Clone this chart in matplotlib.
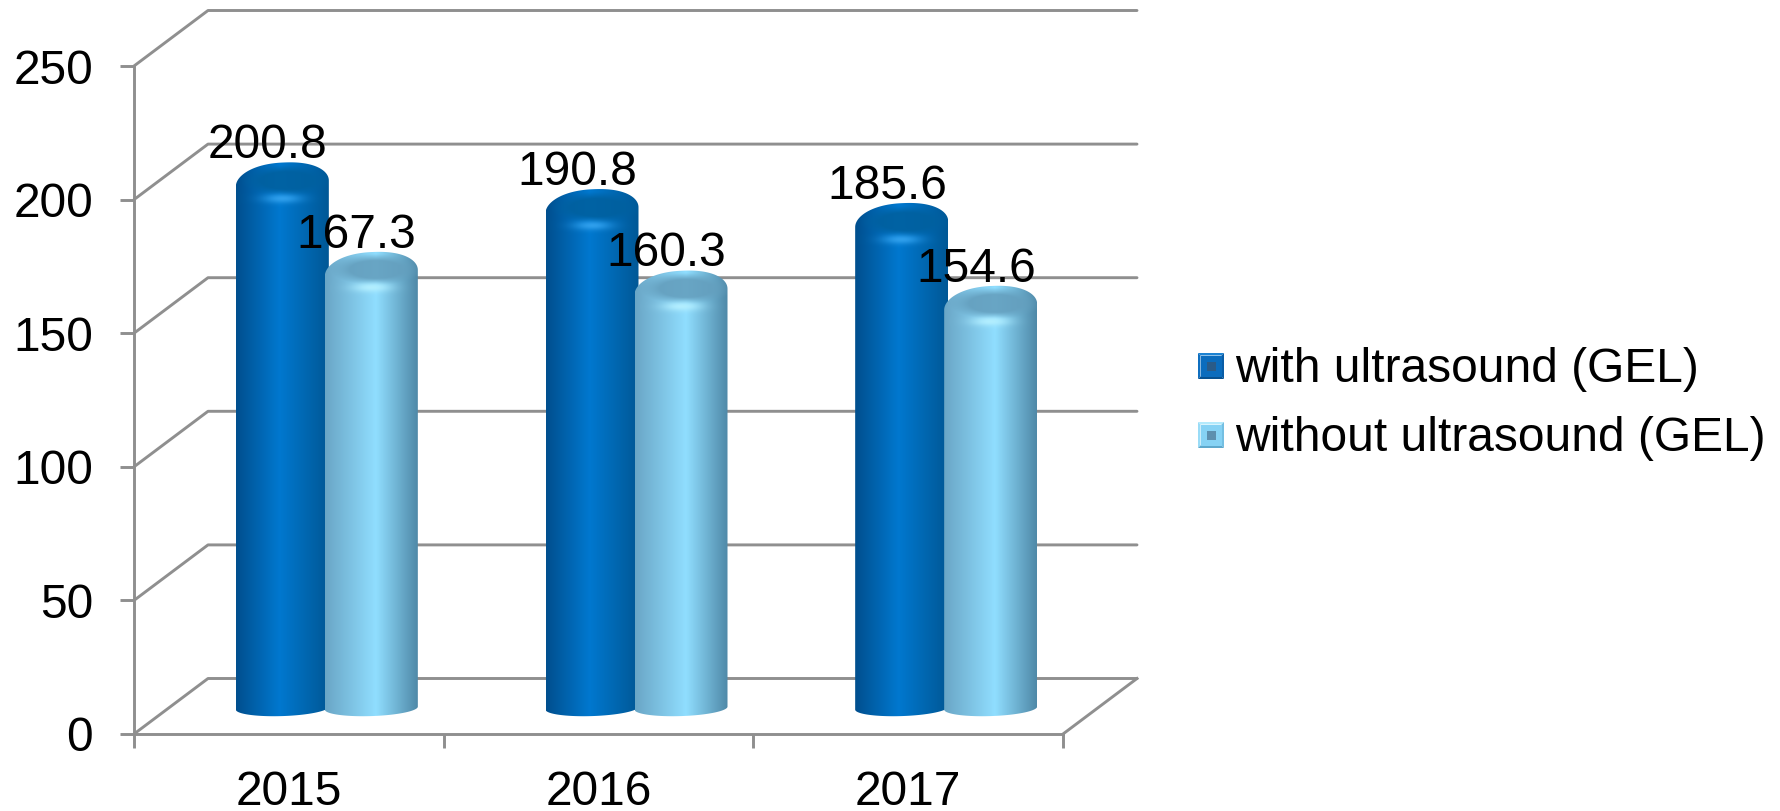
import numpy as np
import matplotlib
matplotlib.use('Agg')
import matplotlib.pyplot as plt
from matplotlib.colors import to_rgb
from matplotlib.patches import Polygon, PathPatch
from matplotlib.path import Path
from matplotlib.transforms import ScaledTranslation

years = ['2015', '2016', '2017']
with_gel = [200.8, 190.8, 185.6]
without_gel = [167.3, 160.3, 154.6]
series_names = ['with ultrasound (GEL)', 'without ultrasound (GEL)']
y_ticks = [0, 50, 100, 150, 200, 250]

W, H = 1780, 812
GRID = '#8f8f8f'
FONT = 34.5
LINE = 2.1

plt.rcParams['font.family'] = ['Liberation Sans', 'DejaVu Sans']

fig = plt.figure(figsize=(W / 100, H / 100), dpi=100, facecolor='white')
ax = fig.add_axes([134 / W, (H - 735) / H, 929 / W, 668 / H])
ax.set_xlim(0, 3)
ax.set_ylim(0, 250)
ax.set_autoscale_on(False)

# size of one pixel in data units
px_x = 3 / 929
px_y = 250 / 668
depth_x = 74 * px_x
depth_y = 55.5 * px_y
base_lift = 9.7

dark_style = {
    'stops': ['#004f8e', '#0078cf', '#005896'],
    'peak': 0.47,
    'plate': '#00609f',
    'glow': '#2f9fec',
}
light_style = {
    'stops': ['#6aa6c6', '#90deff', '#4f89a8'],
    'peak': 0.55,
    'plate': '#649fbe',
    'glow': '#b2eeff',
}


def draw_walls():
    for v in y_ticks:
        ax.plot([0, depth_x, 3 + depth_x], [v, v + depth_y, v + depth_y],
                color=GRID, lw=LINE, clip_on=False, zorder=1, solid_capstyle='round')
    ax.plot([3, 3 + depth_x], [0, depth_y], color=GRID, lw=LINE, clip_on=False, zorder=1)


def silhouette(cx, width, base, top):
    # cylinder outline: tilted arc at the foot, rounded dome at the head
    half = width / 2
    t = np.linspace(0, np.pi, 80)
    c, s = np.cos(t), np.sin(t)
    foot_x = cx - half * c
    foot_y = base - 8 * px_y * s + 1.5 * px_y * (-c)
    shoulder = top - 12 * px_y
    dome_h = 21 * px_y
    dome_x = cx + half * np.sign(c) * np.abs(c) ** 0.9
    dome_y = shoulder + dome_h * s + 3 * px_y * c
    verts = np.column_stack([np.r_[foot_x, dome_x], np.r_[foot_y, dome_y]])
    return Path(np.vstack([verts, verts[0]]), closed=True)


def cylinder_image(style, top, y_low, y_high):
    ny = 500
    u = np.linspace(0, 1, 120)
    y = np.linspace(y_low, y_high, ny)
    xs = [0, style['peak'], 1]
    stops = np.array([to_rgb(c) for c in style['stops']])
    body = np.stack([np.interp(u, xs, stops[:, i]) for i in range(3)], axis=-1)
    img = np.repeat(body[None, :, :], ny, axis=0)

    uu, yy = np.meshgrid((u - 0.5) * 2, (y - top) / px_y)
    # darker flat plate on the cap
    d = np.sqrt(((uu - 0.1) / 0.95) ** 2 + ((yy + 9) / 15) ** 2)
    weight = 0.9 * np.clip((1.05 - d) / 0.45, 0, 1)[..., None]
    img = img * (1 - weight) + np.array(to_rgb(style['plate'])) * weight
    # bright rim below the plate
    glow = np.exp(-(uu / 0.4) ** 2 - ((yy + 27) / 4.5) ** 2)[..., None]
    img = img * (1 - glow) + np.array(to_rgb(style['glow'])) * glow
    return img


def draw_cylinder(cx, width, value, style, z):
    top = base_lift + value
    path = silhouette(cx, width, base_lift, top)
    low, high = base_lift - 12 * px_y, top + 12 * px_y
    img = cylinder_image(style, top, low, high)
    im = ax.imshow(img, extent=[cx - width / 2, cx + width / 2, low, high],
                   origin='lower', aspect='auto', zorder=z, interpolation='bilinear')
    im.set_clip_path(PathPatch(path, transform=ax.transData))


def draw_bars():
    width = 93 * px_x
    shift = 44.5 * px_x
    for i in range(len(years)):
        centre = i + 0.5 + depth_x / 2 + 1 * px_x
        for sign, values, style, z in [(-1, with_gel, dark_style, 3),
                                       (1, without_gel, light_style, 4)]:
            cx = centre + sign * shift
            draw_cylinder(cx, width, values[i], style, z)
            # label sits just above the top of the cap
            ax.annotate(f'{values[i]:.1f}', xy=(cx, values[i] + base_lift + 8.5 * px_y),
                        xytext=(-10.5, 4.2), textcoords='offset points',
                        ha='center', va='baseline', fontsize=FONT, color='black',
                        zorder=6, annotation_clip=False)


def draw_legend_key(kx, y_px, face):
    cx = 1211
    outer, flat, inner = 13, 10.5, 4.5
    x0, x1, y0, y1 = cx - outer, cx + outer, y_px - outer, y_px + outer
    a0, a1, b0, b1 = cx - flat, cx + flat, y_px - flat, y_px + flat
    sides = [
        ([(x0, y0), (x1, y0), (a1, b0), (a0, b0)], face['top']),
        ([(x0, y0), (a0, b0), (a0, b1), (x0, y1)], face['left']),
        ([(x1, y0), (x1, y1), (a1, b1), (a1, b0)], face['right']),
        ([(x0, y1), (a0, b1), (a1, b1), (x1, y1)], face['bottom']),
    ]
    for pts, col in sides:
        kx.add_patch(Polygon(pts, closed=True, facecolor=col, edgecolor='none'))
    kx.add_patch(Polygon([(a0, b0), (a1, b0), (a1, b1), (a0, b1)], closed=True,
                         facecolor=face['flat'], edgecolor='none'))
    kx.add_patch(Polygon([(cx - inner, y_px - inner), (cx + inner, y_px - inner),
                          (cx + inner, y_px + inner), (cx - inner, y_px + inner)],
                         closed=True, facecolor=face['inner'], edgecolor='none'))


draw_walls()
draw_bars()

for side in ['top', 'right']:
    ax.spines[side].set_visible(False)
for side in ['left', 'bottom']:
    ax.spines[side].set_color(GRID)
    ax.spines[side].set_linewidth(LINE)
ax.patch.set_alpha(0)

ax.set_yticks(y_ticks)
ax.set_xticks(range(len(years) + 1))
ax.set_xticklabels([])
ax.set_xticks([i + 0.5 for i in range(len(years))], labels=years, minor=True)
ax.tick_params(axis='both', which='major', length=10, width=LINE, color=GRID)
ax.tick_params(axis='y', labelsize=FONT, pad=19.5)
ax.tick_params(axis='x', which='minor', length=0, labelsize=FONT, pad=25)

# nudge the value labels up a little against their ticks
nudge = ScaledTranslation(0, 1 / 100, fig.dpi_scale_trans)
for label in ax.get_yticklabels():
    label.set_transform(label.get_transform() + nudge)

# legend keys are laid out in figure pixels
key_ax = fig.add_axes([0, 0, 1, 1])
key_ax.set_xlim(0, W)
key_ax.set_ylim(H, 0)
key_ax.axis('off')
key_faces = [
    {'top': '#1c82d2', 'left': '#0f6fc0', 'right': '#0a5da6', 'bottom': '#07508f',
     'flat': '#0b6cbd', 'inner': '#2a5b88'},
    {'top': '#b4eafc', 'left': '#9adcf7', 'right': '#74bfe2', 'bottom': '#5ea8cc',
     'flat': '#86d2f4', 'inner': '#5d8fae'},
]
for name, face, y_px in zip(series_names, key_faces, [367, 436]):
    draw_legend_key(key_ax, y_px, face)
    key_ax.text(1235, y_px - 2, name, fontsize=FONT, color='black', va='center_baseline', ha='left')

fig.savefig('out.png', dpi=100)
